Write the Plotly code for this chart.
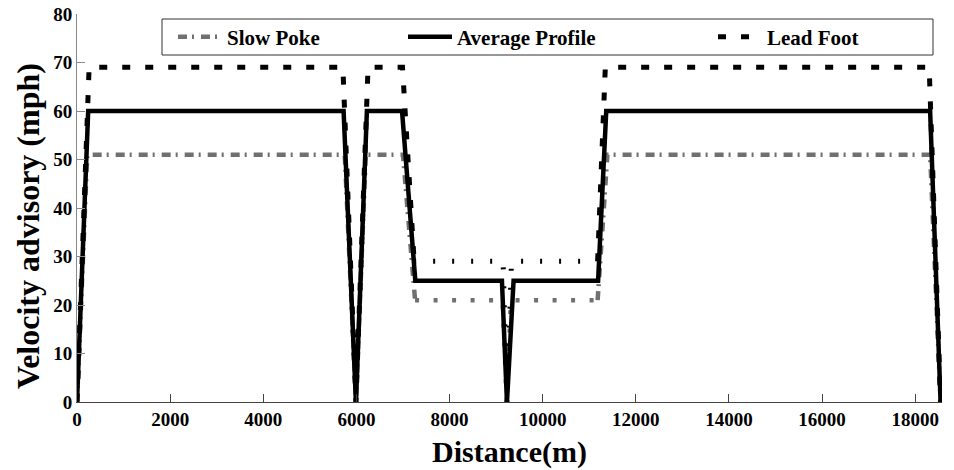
import plotly.graph_objects as go

# ---- data (distance in m, velocity advisory in mph) ----
slow_x = [0, 220, 5750, 5990, 6200, 7000, 7260, 9140, 9230, 9320, 11180, 11390, 18320, 18545]
slow_y = [0, 51, 51, 0, 51, 51, 21, 21, 0, 21, 21, 51, 51, 0]
avg_x = [0, 240, 5725, 5990, 6225, 6980, 7265, 9125, 9233, 9375, 11190, 11365, 18320, 18545]
avg_y = [0, 60, 60, 0, 60, 60, 25, 25, 0, 25, 25, 60, 60, 0]
lead_x = [0, 260, 5710, 5990, 6250, 6990, 7240, 9150, 9233, 9330, 11180, 11345, 18300, 18545]
lead_y = [0, 69, 69, 0, 69, 69, 29, 29, 0, 29, 29, 69, 69, 0]

series_names = ["Slow Poke", "Average Profile", "Lead Foot"]
x_ticks = [0, 2000, 4000, 6000, 8000, 10000, 12000, 14000, 16000, 18000]
y_ticks = [0, 10, 20, 30, 40, 50, 60, 70, 80]

LOW_START, LOW_END = 6, 10  # indices of the low-speed (urban) section


def split(xs, ys):
    hx = xs[:LOW_START + 1] + [None] + xs[LOW_END:]
    hy = ys[:LOW_START + 1] + [None] + ys[LOW_END:]
    lx = xs[LOW_START:LOW_END + 1]
    ly = ys[LOW_START:LOW_END + 1]
    return hx, hy, lx, ly


FONT = "Liberation Serif"
fig = go.Figure()

sx, sy, slx, sly = split(slow_x, slow_y)
fig.add_trace(go.Scatter(x=sx, y=sy, mode="lines", name=series_names[0],
                         line=dict(color="#707070", width=4.5, dash="9px,5px,2px,7px"),
                         legend="legend"))
fig.add_trace(go.Scatter(x=slx, y=sly, mode="lines", showlegend=False,
                         line=dict(color="#707070", width=4.5, dash="4px,14.5px")))

fig.add_trace(go.Scatter(x=avg_x, y=avg_y, mode="lines", name=series_names[1],
                         line=dict(color="#000000", width=4.5),
                         legend="legend2"))

lx, ly, llx, lly = split(lead_x, lead_y)
fig.add_trace(go.Scatter(x=lx, y=ly, mode="lines", name=series_names[2],
                         line=dict(color="#000000", width=5, dash="8px,15px"),
                         legend="legend3"))
fig.add_trace(go.Scatter(x=llx, y=lly, mode="lines", showlegend=False,
                         line=dict(color="#000000", width=5, dash="2px,17px")))

W, H = 954, 470
PL, PR, PT, PB = 77, 942, 14, 402   # plot area in window pixels
L, R, T, B = PL, W - PR, PT, H - PB
pw, ph = PR - PL, PB - PT


def px2x(p):
    return (p - PL) / pw


def py2y(p):
    return 1 - (p - PT) / ph


leg_common = dict(orientation="h", bgcolor="rgba(0,0,0,0)", borderwidth=0,
                  yanchor="middle", y=py2y(37), xanchor="left",
                  font=dict(family=FONT, size=21, color="#000", weight="bold"),
                  itemwidth=44)

fig.update_layout(
    width=W, height=H,
    margin=dict(l=L, r=R, t=T, b=B, autoexpand=False),
    paper_bgcolor="white", plot_bgcolor="white",
    font=dict(family=FONT, size=18, color="#000"),
    legend=dict(x=px2x(173), **leg_common),
    legend2=dict(x=px2x(403), **leg_common),
    legend3=dict(x=px2x(713), **leg_common),
    xaxis=dict(range=[0, 18575], tickvals=x_ticks, ticktext=[str(v) for v in x_ticks],
               ticks="inside", ticklen=8, tickcolor="#444", showline=True,
               linecolor="#444", linewidth=1, showgrid=False, zeroline=False,
               automargin=False, ticklabeloverflow="allow",
               tickfont=dict(family=FONT, size=19, color="#000", weight="bold")),
    yaxis=dict(range=[0, 80], tickvals=y_ticks, ticktext=[str(v) for v in y_ticks],
               ticks="inside", ticklen=8, tickcolor="#888", showline=True,
               linecolor="#888", linewidth=1, showgrid=False, zeroline=False,
               automargin=False, ticklabeloverflow="allow",
               tickfont=dict(family=FONT, size=19, color="#000", weight="bold")),
    shapes=[dict(type="rect", xref="paper", yref="paper",
                 x0=px2x(162), x1=px2x(933), y0=py2y(55), y1=py2y(19),
                 line=dict(color="#333", width=1), fillcolor="white", layer="above")],
    annotations=[
        dict(text="<b>Velocity advisory (mph)</b>", textangle=-90,
             xref="paper", yref="paper", x=px2x(28), y=py2y(226),
             xanchor="center", yanchor="middle", showarrow=False,
             font=dict(family=FONT, size=32, color="#000")),
        dict(text="<b>Distance(m)</b>",
             xref="paper", yref="paper", x=px2x(509), y=py2y(452),
             xanchor="center", yanchor="middle", showarrow=False,
             font=dict(family=FONT, size=30, color="#000")),
    ],
)

fig.write_html("out.html", config={"displayModeBar": False},
               post_script="document.body.style.margin='0';document.body.style.overflow='hidden';")
